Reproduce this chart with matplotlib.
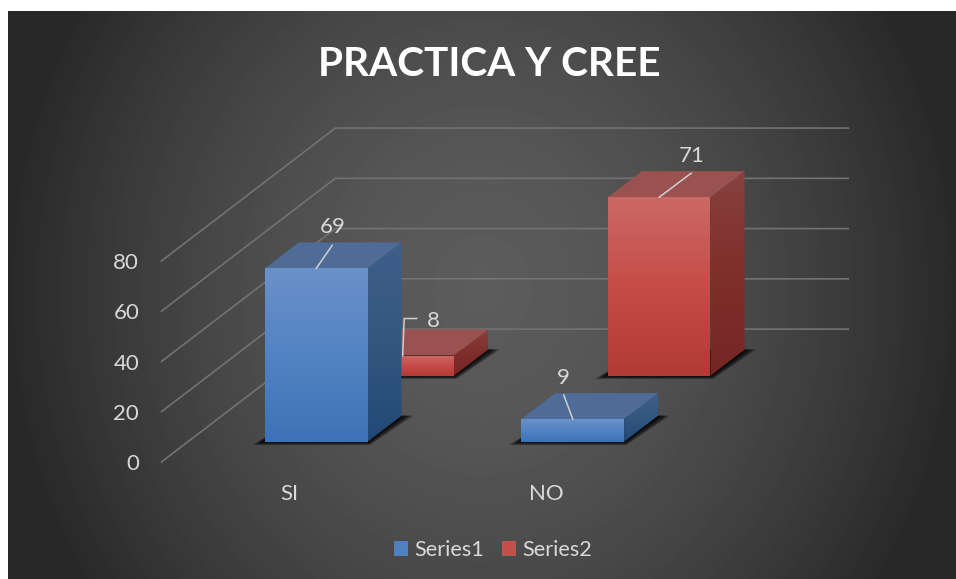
import numpy as np
import matplotlib
matplotlib.use("Agg")
import matplotlib.pyplot as plt
from matplotlib.colors import LinearSegmentedColormap
from matplotlib.patches import Patch, Polygon

categories = ["SI", "NO"]
series1 = [69, 9]
series2 = [8, 71]
series_names = ["Series1", "Series2"]
y_ticks = [0, 20, 40, 60, 80]

W, H = 956, 579
TEXT = "#d9d9d9"

# oblique projection: a unit of depth moves this far in category / value units
DEPTH_X = 0.678
DEPTH_Y = 52.9
BAR_WIDTH = 0.4
PX_X = 2 / 513
PX_Y = 80 / 201

BLUE = {
    "front": ["#6b91c9", "#5283c2", "#3c72b6"],
    "side": ["#3f5f8b", "#335780", "#224876"],
    "top": "#4e6c97",
    "legend": "#4f80c0",
}
RED = {
    "front": ["#cc6965", "#c54c48", "#b23a36"],
    "side": ["#87423f", "#7f2e2b", "#752624"],
    "top": "#99524f",
    "legend": "#c4504c",
}


def project(cat, depth, value):
    return cat + depth * DEPTH_X, value + depth * DEPTH_Y


def gradient_face(ax, pts, colors, zorder):
    cmap = LinearSegmentedColormap.from_list("face", colors)
    xs = [p[0] for p in pts]
    ys = [p[1] for p in pts]
    grad = np.linspace(0, 1, 256).reshape(-1, 1)
    im = ax.imshow(
        grad,
        extent=[min(xs), max(xs), min(ys), max(ys)],
        origin="upper",
        aspect="auto",
        cmap=cmap,
        zorder=zorder,
    )
    im.set_clip_path(Polygon(pts, transform=ax.transData))
    im.set_clip_box(ax.figure.bbox)


def draw_shadow(ax, x0, x1, d0, d1, zorder):
    # soft shadow on the floor, built up from nested polygons
    for grow in np.linspace(1, 0, 9):
        left = (3 + 10 * grow) * PX_X
        right = (3 + 9 * grow) * PX_X
        low = (0.5 + 3 * grow) * PX_Y
        pts = [
            project(x0 - left, d0, -low),
            project(x1 + 0.2 * right, d0, -low),
            project(x1 + right, d1, 0),
            project(x0, d1, 0),
        ]
        ax.add_patch(Polygon(pts, closed=True, fc="black", ec="none", alpha=0.17,
                             zorder=zorder, clip_on=False))


def draw_bar(ax, cat, value, d0, d1, style, zorder):
    x0 = cat + 0.5 - BAR_WIDTH / 2
    x1 = x0 + BAR_WIDTH
    draw_shadow(ax, x0, x1, d0, d1, zorder)
    front = [project(x0, d0, 0), project(x1, d0, 0), project(x1, d0, value), project(x0, d0, value)]
    side = [project(x1, d0, 0), project(x1, d1, 0), project(x1, d1, value), project(x1, d0, value)]
    top = [project(x0, d0, value), project(x1, d0, value), project(x1, d1, value), project(x0, d1, value)]
    gradient_face(ax, side, style["side"], zorder + 0.1)
    ax.add_patch(Polygon(top, closed=True, fc=style["top"], ec="none", zorder=zorder + 0.2, clip_on=False))
    gradient_face(ax, front, style["front"], zorder + 0.3)


def draw_label(ax, cat, value, d0, path, text_off):
    # leader line from the middle of the top front edge, offsets in pixels
    ax_x, ax_y = project(cat + 0.5, d0, value)
    xs = [ax_x] + [ax_x + dx * PX_X for dx, dy in path]
    ys = [ax_y] + [ax_y + dy * PX_Y for dx, dy in path]
    ax.plot(xs, ys, color="#d0d0d0", lw=1.1, zorder=20, clip_on=False)
    ax.text(ax_x + text_off[0] * PX_X, ax_y + text_off[1] * PX_Y, str(value), color=TEXT,
            fontsize=16, ha="center", va="center", zorder=21, clip_on=False)


plt.rcParams["font.family"] = ["Lato", "DejaVu Sans"]
fig = plt.figure(figsize=(W / 100, H / 100), dpi=100, facecolor="white")

# panel with a radial grey gradient
bg = fig.add_axes([8 / W, 0, (W - 8) / W, (H - 11) / H])
xx, yy = np.meshgrid(np.arange(8, W), np.arange(11, H))
r = np.sqrt(((xx - 482) / 480.0) ** 2 + ((yy - 290) / 540.0) ** 2)
shade = 0x5c - (0x5c - 0x28) * np.clip(r, 0, 1) ** 1.6
bg.imshow(shade, cmap="gray", vmin=0, vmax=255, aspect="auto", interpolation="bilinear")
bg.axis("off")

ax = fig.add_axes([161.4 / W, (H - 462) / H, 513 / W, 201 / H])
ax.patch.set_alpha(0)
for spine in ax.spines.values():
    spine.set_visible(False)

# walls
for v in y_ticks:
    pts = [project(0, 0, v), project(0, 1, v), project(2, 1, v)]
    ax.plot([p[0] for p in pts], [p[1] for p in pts], color="#727272", lw=1.2, zorder=1, clip_on=False)

draw_bar(ax, 0, series2[0], 0.65, 0.846, RED, 3)
draw_bar(ax, 1, series2[1], 0.65, 0.846, RED, 4)
draw_bar(ax, 0, series1[0], 0.153, 0.348, BLUE, 5)
draw_bar(ax, 1, series1[1], 0.153, 0.348, BLUE, 6)

draw_label(ax, 0, series1[0], 0.153, [(16, 23)], (16, 41))
draw_label(ax, 1, series1[1], 0.153, [(-9, 24)], (-9, 41))
draw_label(ax, 0, series2[0], 0.65, [(1.5, 37), (14, 37)], (31, 35))
draw_label(ax, 1, series2[1], 0.65, [(32, 24)], (32, 41))

ax.set_xlim(0, 2)
ax.set_ylim(0, 80)
ax.set_yticks(y_ticks)
ax.set_xticks([0.5, 1.5])
ax.set_xticklabels(categories)
ax.tick_params(axis="y", length=0, pad=16, labelcolor=TEXT, labelsize=16)
ax.tick_params(axis="x", length=0, pad=16, labelcolor=TEXT, labelsize=16)

fig.suptitle("PRACTICA Y CREE", x=489 / W, y=1 - 64 / H, va="center", ha="center",
             color="white", fontsize=29.2, fontweight="bold")

handles = [Patch(fc=BLUE["legend"], label=series_names[0]), Patch(fc=RED["legend"], label=series_names[1])]
fig.legend(handles=handles, loc="center", bbox_to_anchor=(493 / W, 1 - 550 / H), ncol=2, frameon=False,
           fontsize=15.6, labelcolor=TEXT, handlelength=0.65, handleheight=0.65, handletextpad=0.3,
           columnspacing=0.8)

fig.savefig("out.png", dpi=100)
